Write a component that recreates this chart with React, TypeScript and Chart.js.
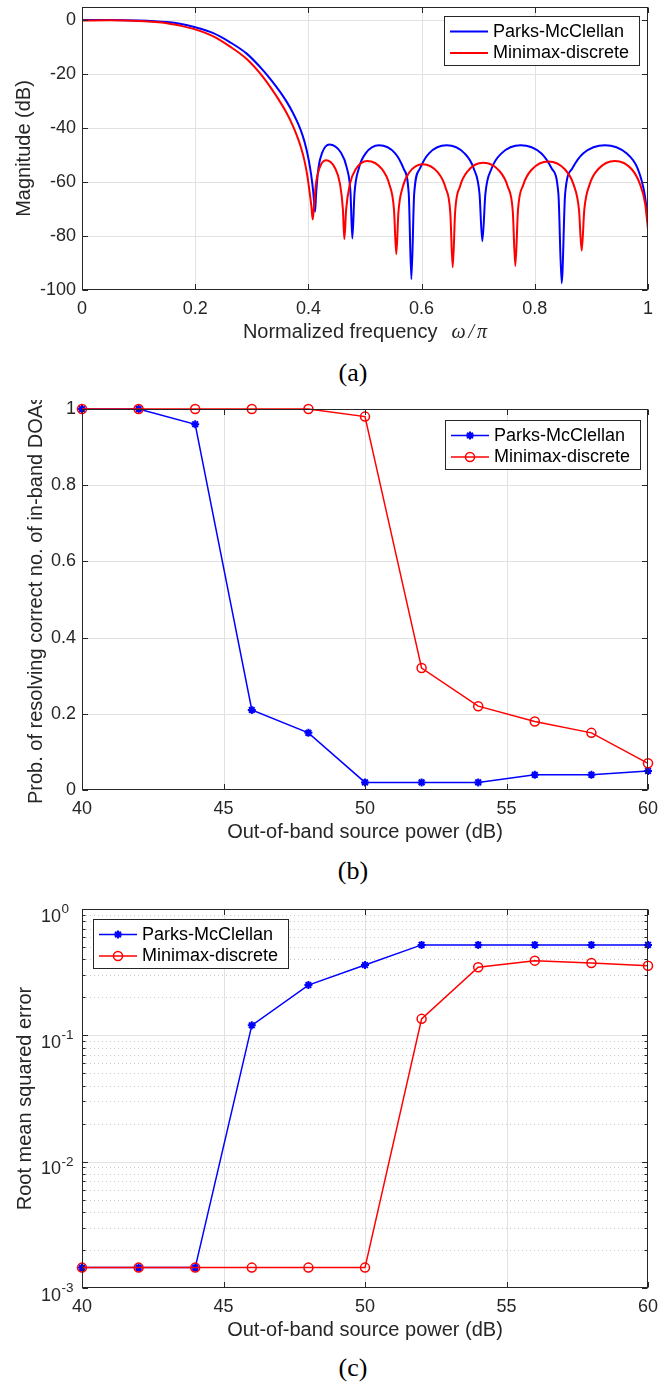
import React, { useEffect, useRef } from 'react';
import { Chart, registerables } from 'chart.js';

Chart.register(...registerables);

const SANS = '"Liberation Sans", Arial, Helvetica, sans-serif';
const SERIF = '"Liberation Serif", "Times New Roman", serif';
const AX = '#262626';
const BLUE = '#0000ff';
const RED = '#ff0000';

const seriesLabels = ['Parks-McClellan', 'Minimax-discrete'];
const captions = ['(a)', '(b)', '(c)'];

// ---------- (a) magnitude response ----------
const freqTicks = [0, 0.2, 0.4, 0.6, 0.8, 1];
const magTicks = [-100, -80, -60, -40, -20, 0];
const freqTitleText = 'Normalized frequency';
const freqTitleMath = ['ω', '/', 'π'];
const magTitle = 'Magnitude (dB)';

const freqPM = [
  0, 0.05, 0.1, 0.15, 0.173, 0.2, 0.232, 0.261, 0.291, 0.32, 0.335, 0.35, 0.362, 0.373, 0.382, 0.39, 0.396, 0.401, 0.405, 0.4085, 0.4117,
  0.4137, 0.4178, 0.4244, 0.437, 0.4573, 0.4679, 0.4744, 0.4776,
  0.4814, 0.4889, 0.5012, 0.5247, 0.5533, 0.5682, 0.5773, 0.5819,
  0.5869, 0.5969, 0.6131, 0.6443, 0.6758, 0.6922, 0.7023, 0.7073,
  0.7127, 0.7235, 0.7412, 0.775, 0.8113, 0.8301, 0.8417, 0.8475,
  0.8536, 0.8659, 0.8858, 0.924, 0.962, 0.9818, 0.9939, 1.0,
];
const magPM = [
  0.15, 0.2, 0, -0.6, -1.2, -2.5, -4.7, -8.0, -12.3, -18.5, -22.3, -26.5, -30.3, -34.4, -38.4, -42.8, -47.3, -52.3, -57.5, -63.5, -71,
  -64.0, -54.7, -49.0, -46.0, -49.0, -54.7, -64.0, -80.9,
  -64.3, -55.0, -49.3, -46.3, -49.3, -55.0, -64.3, -96,
  -64.3, -55.0, -49.3, -46.3, -49.3, -55.0, -64.3, -81.9,
  -64.3, -55.0, -49.3, -46.3, -49.3, -55.0, -64.3, -97.5,
  -64.3, -55.0, -49.3, -46.3, -49.3, -55.0, -64.3, -74,
];
const freqMD = [
  0, 0.05, 0.1, 0.15, 0.173, 0.2, 0.232, 0.261, 0.291, 0.32, 0.335, 0.35, 0.362, 0.372, 0.38, 0.387, 0.393, 0.398, 0.402, 0.4053, 0.4076,
  0.4095, 0.4133, 0.4194, 0.4312, 0.4474, 0.4558, 0.4609, 0.4635,
  0.4667, 0.4732, 0.4838, 0.504, 0.5297, 0.543, 0.5512, 0.5553,
  0.559, 0.5664, 0.5785, 0.6016, 0.6283, 0.6422, 0.6507, 0.655,
  0.6593, 0.668, 0.682, 0.709, 0.7373, 0.752, 0.7611, 0.7656,
  0.7703, 0.7796, 0.7948, 0.824, 0.8534, 0.8687, 0.8781, 0.8828,
  0.8875, 0.8969, 0.9123, 0.9417, 0.9709, 0.986, 0.995, 1.0,
];
const magMD = [
  0, 0.05, -0.2, -1.0, -1.9, -3.3, -5.9, -9.6, -14.3, -21, -25.4, -30.2, -34.5, -38.8, -42.9, -47.2, -52, -57.5, -63.5, -69, -73.8,
  -69.9, -60.6, -54.9, -51.9, -54.9, -60.6, -69.9, -81.1,
  -70.1, -60.8, -55.1, -52.1, -55.1, -60.8, -70.1, -86.7,
  -71.3, -62.0, -56.3, -53.3, -56.3, -62.0, -71.3, -91.6,
  -70.8, -61.5, -55.8, -52.8, -55.8, -61.5, -70.8, -91.1,
  -70.3, -61.0, -55.3, -52.3, -55.3, -61.0, -70.3, -85.4,
  -70.1, -60.8, -55.1, -52.1, -55.1, -60.8, -68, -77.5,
];

// ---------- (b) probability of resolution ----------
const powerDb = [40, 42, 44, 46, 48, 50, 52, 54, 56, 58, 60];
const powerTicks = [40, 45, 50, 55, 60];
const powerTitle = 'Out-of-band source power (dB)';
const probTicks = [0, 0.2, 0.4, 0.6, 0.8, 1];
const probTitle = 'Prob. of resolving correct no. of in-band DOAs';
const probPM = [1, 1, 0.96, 0.21, 0.15, 0.02, 0.02, 0.02, 0.04, 0.04, 0.05];
const probMD = [1, 1, 1, 1, 1, 0.98, 0.32, 0.22, 0.18, 0.15, 0.07];

// ---------- (c) RMSE ----------
const rmseDecades = [-3, -2, -1, 0];
const rmseTitle = 'Root mean squared error';
const rmsePM = [0.00145, 0.00145, 0.00145, 0.12, 0.25, 0.36, 0.52, 0.52, 0.52, 0.52, 0.52];
const rmseMD = [0.00145, 0.00145, 0.00145, 0.00145, 0.00145, 0.00145, 0.135, 0.346, 0.39, 0.374, 0.356];

const fontTick = { family: SANS, size: 18 };
const fontTitle = { family: SANS, size: 20 };

type PluginCfg = {
  legendX: number;
  legendY: number;
  logY?: boolean;
  freqTitle?: boolean;
};

function drawMarker(ctx: CanvasRenderingContext2D, style: string, x: number, y: number, r: number, color: string, lw: number) {
  ctx.save();
  ctx.strokeStyle = color;
  ctx.lineWidth = lw;
  ctx.setLineDash([]);
  ctx.beginPath();
  if (style === 'star') {
    ctx.moveTo(x - r, y); ctx.lineTo(x + r, y);
    ctx.moveTo(x, y - r); ctx.lineTo(x, y + r);
    const d = r * Math.SQRT1_2;
    ctx.moveTo(x - d, y - d); ctx.lineTo(x + d, y + d);
    ctx.moveTo(x - d, y + d); ctx.lineTo(x + d, y - d);
  } else if (style === 'circle') {
    ctx.arc(x, y, r, 0, Math.PI * 2);
  }
  ctx.stroke();
  ctx.restore();
}

function makePlugin(cfg: PluginCfg) {
  return {
    id: 'matlabStyle',
    beforeDatasetsDraw(chart: any) {
      const { ctx, chartArea: a, scales } = chart;
      const xs = scales.x;
      const ys = scales.y;
      ctx.save();
      ctx.lineWidth = 1;
      if (cfg.logY) {
        ctx.strokeStyle = 'rgba(38,38,38,0.25)';
        ctx.setLineDash([1, 3]);
        for (let i = 0; i < rmseDecades.length - 1; i++) {
          for (let m = 2; m <= 9; m++) {
            const y = Math.round(ys.getPixelForValue(m * Math.pow(10, rmseDecades[i]))) + 0.5;
            ctx.beginPath(); ctx.moveTo(a.left, y); ctx.lineTo(a.right, y); ctx.stroke();
          }
        }
        ctx.setLineDash([]);
      }
      ctx.strokeStyle = '#e2e2e2';
      xs.ticks.forEach((t: any) => {
        const x = xs.getPixelForValue(t.value);
        if (x <= a.left + 1 || x >= a.right - 1) return;
        const xx = Math.round(x) + 0.5;
        ctx.beginPath(); ctx.moveTo(xx, a.top); ctx.lineTo(xx, a.bottom); ctx.stroke();
      });
      const yVals = cfg.logY ? rmseDecades.map((e) => Math.pow(10, e)) : ys.ticks.map((t: any) => t.value);
      yVals.forEach((v: number) => {
        const y = ys.getPixelForValue(v);
        if (y <= a.top + 1 || y >= a.bottom - 1) return;
        const yy = Math.round(y) + 0.5;
        ctx.beginPath(); ctx.moveTo(a.left, yy); ctx.lineTo(a.right, yy); ctx.stroke();
      });
      ctx.restore();
    },
    afterDatasetsDraw(chart: any) {
      const { ctx, chartArea: a, scales } = chart;
      const xs = scales.x;
      const ys = scales.y;
      const L = Math.round(a.left) + 0.5;
      const R = Math.round(a.right) - 0.5;
      const T = Math.round(a.top) + 0.5;
      const B = Math.round(a.bottom) - 0.5;
      ctx.save();
      ctx.strokeStyle = AX;
      ctx.lineWidth = 1;
      ctx.setLineDash([]);
      ctx.strokeRect(L, T, R - L, B - T);
      const tl = 5.5;
      ctx.beginPath();
      xs.ticks.forEach((t: any) => {
        const x = Math.round(xs.getPixelForValue(t.value)) + 0.5;
        ctx.moveTo(x, B); ctx.lineTo(x, B - tl);
        ctx.moveTo(x, T); ctx.lineTo(x, T + tl);
      });
      const yVals = cfg.logY ? rmseDecades.map((e) => Math.pow(10, e)) : ys.ticks.map((t: any) => t.value);
      yVals.forEach((v: number) => {
        const y = Math.round(ys.getPixelForValue(v)) + 0.5;
        ctx.moveTo(L, y); ctx.lineTo(L + tl, y);
        ctx.moveTo(R, y); ctx.lineTo(R - tl, y);
      });
      if (cfg.logY) {
        for (let i = 0; i < rmseDecades.length - 1; i++) {
          for (let m = 2; m <= 9; m++) {
            const y = Math.round(ys.getPixelForValue(m * Math.pow(10, rmseDecades[i]))) + 0.5;
            ctx.moveTo(L, y); ctx.lineTo(L + 3, y);
            ctx.moveTo(R, y); ctx.lineTo(R - 3, y);
          }
        }
      }
      ctx.stroke();

      // log tick labels with superscripts
      if (cfg.logY) {
        ctx.fillStyle = AX;
        rmseDecades.forEach((e) => {
          const y = ys.getPixelForValue(Math.pow(10, e));
          ctx.font = `18px ${SANS}`;
          ctx.textAlign = 'right';
          ctx.textBaseline = 'alphabetic';
          ctx.fillText('10', 61, y + 12.5);
          ctx.font = `13.5px ${SANS}`;
          ctx.textAlign = 'left';
          ctx.fillText(String(e), 61.5, y + 4);
        });
      }

      // x title with math for (a)
      if (cfg.freqTitle) {
        const cy = a.bottom + 42.5;
        ctx.fillStyle = AX;
        ctx.textBaseline = 'middle';
        ctx.textAlign = 'left';
        ctx.font = `20px ${SANS}`;
        const w1 = ctx.measureText(freqTitleText).width;
        ctx.font = `italic 20px ${SERIF}`;
        const ws = freqTitleMath.map((s) => ctx.measureText(s).width);
        const gap = 14;
        const sp = 3;
        const total = w1 + gap + ws[0] + sp + ws[1] + sp + ws[2];
        let x = (a.left + a.right) / 2 - total / 2;
        ctx.font = `20px ${SANS}`;
        ctx.fillText(freqTitleText, x, cy);
        x += w1 + gap;
        ctx.font = `italic 20px ${SERIF}`;
        freqTitleMath.forEach((s, i) => {
          ctx.fillText(s, x, cy);
          x += ws[i] + sp;
        });
      }

      // legend
      const bx = cfg.legendX;
      const by = cfg.legendY;
      const bw = 195;
      const bh = 49;
      ctx.fillStyle = '#ffffff';
      ctx.fillRect(bx, by, bw, bh);
      ctx.strokeStyle = AX;
      ctx.lineWidth = 1;
      ctx.strokeRect(Math.round(bx) + 0.5, Math.round(by) + 0.5, bw, bh);
      const rows = [by + 15.5, by + 37];
      chart.data.datasets.forEach((ds: any, i: number) => {
        const ry = rows[i];
        ctx.strokeStyle = ds.borderColor;
        ctx.lineWidth = ds.borderWidth;
        ctx.beginPath();
        ctx.moveTo(bx + 6, ry);
        ctx.lineTo(bx + 44, ry);
        ctx.stroke();
        if (ds.pointRadius > 0) {
          drawMarker(ctx, ds.pointStyle, bx + 25, ry, ds.pointRadius, ds.borderColor, ds.pointBorderWidth);
        }
        ctx.fillStyle = '#000000';
        ctx.font = `18px ${SANS}`;
        ctx.textAlign = 'left';
        ctx.textBaseline = 'middle';
        ctx.fillText(ds.label, bx + 49, ry + 0.5);
      });
      ctx.restore();
    },
  };
}

function axisX(min: number, max: number, ticks: number[], title?: string) {
  return {
    type: 'linear',
    min,
    max,
    afterBuildTicks: (s: any) => { s.ticks = ticks.map((v) => ({ value: v })); },
    afterFit: (s: any) => { s.height = 60; s.paddingLeft = 0; s.paddingRight = 0; },
    grid: { display: false, drawTicks: false },
    border: { display: false },
    ticks: { color: AX, font: fontTick, padding: 8.5, maxRotation: 0, autoSkip: false, callback: (v: any) => String(v) },
    title: { display: !!title, text: title || '', color: AX, font: fontTitle, padding: { top: 0, bottom: 5.5 } },
  };
}

function axisY(type: string, min: number, max: number, ticks: number[] | null, title: string, titlePad: number, showTicks = true) {
  const o: any = {
    type,
    min,
    max,
    afterFit: (s: any) => { s.width = 82; s.paddingTop = 0; s.paddingBottom = 0; },
    grid: { display: false, drawTicks: false },
    border: { display: false },
    ticks: { display: showTicks, color: AX, font: fontTick, padding: 6, autoSkip: false, callback: (v: any) => String(v) },
    title: { display: true, text: title, color: AX, font: fontTitle, padding: { top: titlePad, bottom: 0 } },
  };
  if (ticks) o.afterBuildTicks = (s: any) => { s.ticks = ticks.map((v) => ({ value: v })); };
  return o;
}

function baseOptions(padTop: number, x: any, y: any) {
  return {
    responsive: false,
    animation: false,
    events: [],
    layout: { padding: { top: padTop, right: 10, bottom: 0, left: 0 } },
    plugins: { legend: { display: false }, tooltip: { enabled: false } },
    scales: { x, y },
  };
}

function pts(xs: number[], ys: number[]) {
  return xs.map((x, i) => ({ x, y: ys[i] }));
}

function markerSeries(label: string, xs: number[], ys: number[], color: string, style: string, order: number) {
  const star = style === 'star';
  return {
    label,
    data: pts(xs, ys),
    borderColor: color,
    backgroundColor: color,
    borderWidth: 1.5,
    pointStyle: style,
    pointRadius: star ? 4 : 4.5,
    pointBorderWidth: star ? 2 : 1.5,
    pointBorderColor: color,
    pointBackgroundColor: star ? color : 'rgba(0,0,0,0)',
    tension: 0,
    fill: false,
    clip: false,
    order,
  };
}

function buildA() {
  return {
    type: 'line',
    data: {
      datasets: [
        { label: seriesLabels[0], data: pts(freqPM, magPM), borderColor: BLUE, borderWidth: 2, pointRadius: 0, cubicInterpolationMode: 'monotone', fill: false, order: 1 },
        { label: seriesLabels[1], data: pts(freqMD, magMD), borderColor: RED, borderWidth: 2, pointRadius: 0, cubicInterpolationMode: 'monotone', fill: false, order: 0 },
      ],
    },
    options: baseOptions(7, axisX(0, 1, freqTicks), axisY('linear', -100, 5, magTicks, magTitle, 12)),
    plugins: [makePlugin({ legendX: 444, legendY: 16, freqTitle: true })],
  };
}

function buildB() {
  return {
    type: 'line',
    data: {
      datasets: [
        markerSeries(seriesLabels[0], powerDb, probPM, BLUE, 'star', 1),
        markerSeries(seriesLabels[1], powerDb, probMD, RED, 'circle', 0),
      ],
    },
    options: baseOptions(9, axisX(40, 60, powerTicks, powerTitle), axisY('linear', 0, 1, probTicks, probTitle, 24.5)),
    plugins: [makePlugin({ legendX: 445, legendY: 20 })],
  };
}

function buildC() {
  return {
    type: 'line',
    data: {
      datasets: [
        markerSeries(seriesLabels[0], powerDb, rmsePM, BLUE, 'star', 1),
        markerSeries(seriesLabels[1], powerDb, rmseMD, RED, 'circle', 0),
      ],
    },
    options: baseOptions(29, axisX(40, 60, powerTicks, powerTitle), axisY('logarithmic', 0.001, 1, null, rmseTitle, 13.5, false)),
    plugins: [makePlugin({ legendX: 93, legendY: 39, logY: true })],
  };
}

function ChartCanvas({ top, height, build }: { top: number; height: number; build: () => any }) {
  const ref = useRef<HTMLCanvasElement | null>(null);
  useEffect(() => {
    const chart = new Chart(ref.current as HTMLCanvasElement, build());
    return () => chart.destroy();
  }, []);
  return (
    <div style={{ position: 'absolute', left: 0, top, width: 658, height, overflow: 'hidden' }}>
      <canvas ref={ref} width={658} height={height} style={{ display: 'block', width: 658, height }} />
    </div>
  );
}

function Caption({ text, cy }: { text: string; cy: number }) {
  return (
    <div
      style={{
        position: 'absolute',
        left: 353,
        top: cy,
        transform: 'translate(-50%, -50%)',
        fontFamily: SERIF,
        fontSize: 26,
        lineHeight: '30px',
        color: '#000',
        whiteSpace: 'nowrap',
      }}
    >
      {text}
    </div>
  );
}

export default function App() {
  return (
    <div style={{ position: 'absolute', left: 0, top: 0, width: 658, height: 1386, background: '#fff', overflow: 'hidden' }}>
      <ChartCanvas top={0} height={350} build={buildA} />
      <Caption text={captions[0]} cy={373} />
      <ChartCanvas top={400} height={450} build={buildB} />
      <Caption text={captions[1]} cy={871} />
      <ChartCanvas top={880} height={468} build={buildC} />
      <Caption text={captions[2]} cy={1368} />
    </div>
  );
}
